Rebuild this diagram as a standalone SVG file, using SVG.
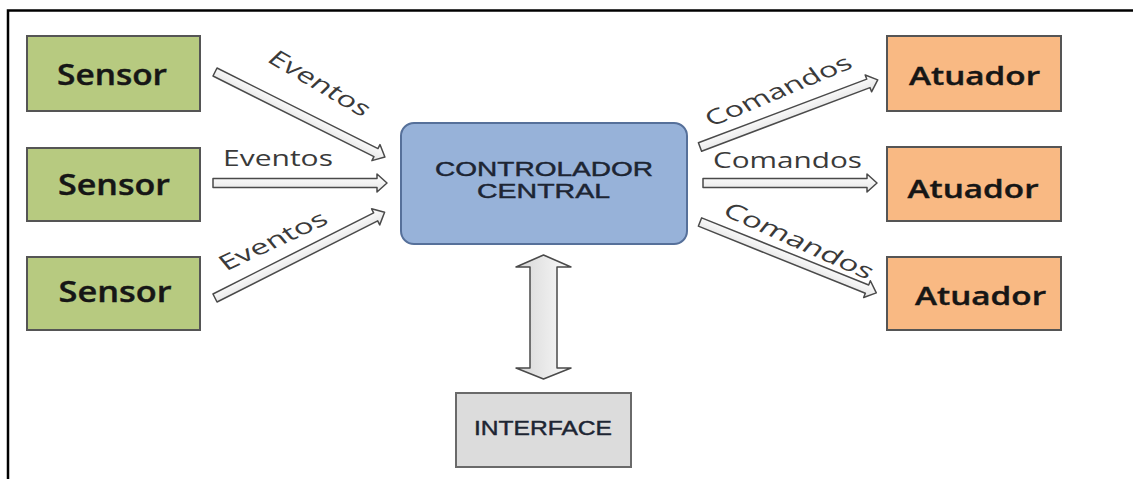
<svg xmlns="http://www.w3.org/2000/svg" width="1133" height="479" viewBox="0 0 1133 479">
  <style>
    .sensor { fill: #b7ca80; stroke: #555; stroke-width: 2; }
    .atuador { fill: #f9b983; stroke: #555; stroke-width: 2; }
    .ctrl { fill: #97b2d9; stroke: #56709a; stroke-width: 2; }
    .iface { fill: #dcdcdc; stroke: #6a6a6a; stroke-width: 2; }
    .node-label { font-family: "Open Sans", "Liberation Sans", sans-serif; font-weight: 600; fill: #161616; stroke: #161616; stroke-width: 0.4; text-anchor: middle; }
    .caps-label { font-family: "Liberation Sans", Arial, sans-serif; fill: #1d2533; stroke: #1d2533; stroke-width: 0.45; text-anchor: middle; }
    .flow-label { font-family: "Open Sans", "Liberation Sans", sans-serif; font-size: 21px; fill: #3a3a3a; }
    .arrow { fill: url(#shaftFill); stroke: #4a4a4a; stroke-width: 1.5; stroke-linejoin: round; }
    .frame { stroke: #000; stroke-width: 2.5; fill: none; }
  </style>
  <defs>
    <linearGradient id="shaftFill" x1="0" y1="0" x2="0" y2="1">
      <stop offset="0" stop-color="#ffffff"/>
      <stop offset="1" stop-color="#e4e4e4"/>
    </linearGradient>
    <linearGradient id="vertFill" x1="0" y1="0" x2="1" y2="0">
      <stop offset="0" stop-color="#d6d6d6"/>
      <stop offset="1" stop-color="#fafafa"/>
    </linearGradient>
    <!-- hollow block arrows pointing along +x, tail at origin -->
    <path id="arrowD" d="M0,-4.5 H180 V-9 L190,0 L180,9 V4.5 H0 Z"/>
    <path id="arrowH" d="M0,-4.5 H164 V-9 L174,0 L164,9 V4.5 H0 Z"/>
  </defs>

  <rect width="1133" height="479" fill="#fff"/>
  <path class="frame" d="M8,479 V10.5 H1133"/>

  <g id="connectors">
    <use href="#arrowD" class="arrow" transform="translate(215,72) rotate(26.6)"/>
    <use href="#arrowH" class="arrow" transform="translate(213,183)"/>
    <use href="#arrowD" class="arrow" transform="translate(215,298) rotate(-26.8)"/>
    <use href="#arrowD" class="arrow" transform="translate(700,147) rotate(-20.7)"/>
    <use href="#arrowH" class="arrow" transform="translate(703,183)"/>
    <use href="#arrowD" class="arrow" transform="translate(700,222) rotate(21.9)"/>
    <path class="arrow" style="fill:url(#vertFill)" d="M543.5,255 L571,267 L557,267 V368 L571,368 L543.5,379 L516,368 L530,368 V267 L516,267 Z"/>

    <text class="flow-label" transform="translate(314,89) scale(1.33,1) rotate(38)" text-anchor="middle" textLength="92" lengthAdjust="spacingAndGlyphs">Eventos</text>
    <text class="flow-label" x="223" y="166" font-size="20" textLength="110" lengthAdjust="spacingAndGlyphs">Eventos</text>
    <text class="flow-label" transform="translate(278,247) scale(1.33,1) rotate(-32)" text-anchor="middle" textLength="92" lengthAdjust="spacingAndGlyphs">Eventos</text>
    <text class="flow-label" transform="translate(783,97) scale(1.33,1) rotate(-29.2)" text-anchor="middle" textLength="123" lengthAdjust="spacingAndGlyphs">Comandos</text>
    <text class="flow-label" x="713" y="168" textLength="149" lengthAdjust="spacingAndGlyphs">Comandos</text>
    <text class="flow-label" transform="translate(794,247) scale(1.33,1) rotate(30.9)" text-anchor="middle" textLength="128" lengthAdjust="spacingAndGlyphs">Comandos</text>
  </g>

  <g id="sensor1">
    <rect class="sensor" x="27" y="36" width="173" height="75"/>
    <text class="node-label" x="112" y="85" font-size="28" textLength="110" lengthAdjust="spacingAndGlyphs">Sensor</text>
  </g>
  <g id="sensor2">
    <rect class="sensor" x="27" y="148" width="173" height="73"/>
    <text class="node-label" x="114" y="195" font-size="28" textLength="112" lengthAdjust="spacingAndGlyphs">Sensor</text>
  </g>
  <g id="sensor3">
    <rect class="sensor" x="27" y="257" width="173" height="73"/>
    <text class="node-label" x="115" y="302" font-size="28" textLength="113" lengthAdjust="spacingAndGlyphs">Sensor</text>
  </g>

  <g id="controlador">
    <rect class="ctrl" x="401" y="123" width="286" height="121" rx="13"/>
    <text class="caps-label" x="544" y="176" font-size="21" textLength="218" lengthAdjust="spacingAndGlyphs">CONTROLADOR</text>
    <text class="caps-label" x="543.5" y="198" font-size="21" textLength="133" lengthAdjust="spacingAndGlyphs">CENTRAL</text>
  </g>

  <g id="atuador1">
    <rect class="atuador" x="887" y="36" width="174" height="75"/>
    <text class="node-label" x="974.5" y="85" font-size="25" textLength="131" lengthAdjust="spacingAndGlyphs">Atuador</text>
  </g>
  <g id="atuador2">
    <rect class="atuador" x="887" y="147" width="174" height="74"/>
    <text class="node-label" x="973" y="198" font-size="25" textLength="131" lengthAdjust="spacingAndGlyphs">Atuador</text>
  </g>
  <g id="atuador3">
    <rect class="atuador" x="887" y="257" width="174" height="73"/>
    <text class="node-label" x="980.5" y="305" font-size="25" textLength="131" lengthAdjust="spacingAndGlyphs">Atuador</text>
  </g>

  <g id="interface">
    <rect class="iface" x="456" y="393" width="175" height="74"/>
    <text class="caps-label" x="543" y="435" font-size="21" textLength="138" lengthAdjust="spacingAndGlyphs">INTERFACE</text>
  </g>
</svg>
